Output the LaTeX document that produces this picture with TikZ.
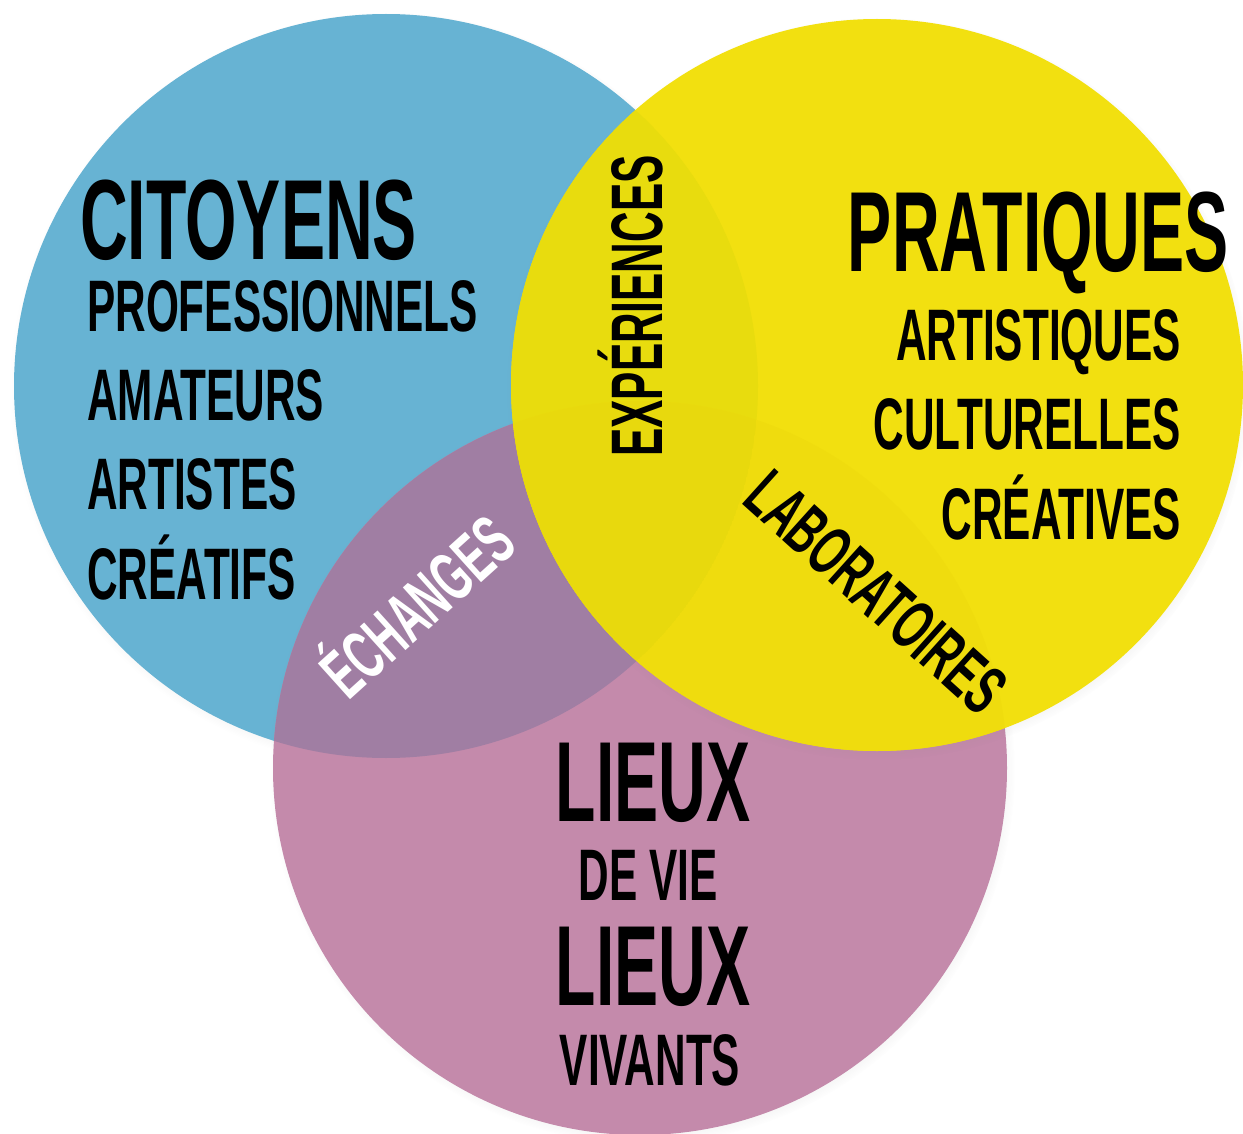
\documentclass[tikz,border=0pt]{standalone}
\usepackage{fontspec}
\usepackage{tikz}
\usetikzlibrary{shadows}
\newfontfamily\condfont[FakeStretch=0.58]{Liberation Sans}

\definecolor{cblue}{HTML}{67B3D3}
\definecolor{cpink}{HTML}{C48AAB}
\definecolor{cyellow}{HTML}{F2E010}
\definecolor{cpurple}{HTML}{A07EA3}
\definecolor{cblueyel}{HTML}{E8DC0E}
\definecolor{cpinkyel}{HTML}{EFDC0E}
\definecolor{call}{HTML}{E8D90D}

\begin{document}
\begin{tikzpicture}[x=1pt,y=-1pt,
  big/.style={font=\condfont\bfseries\fontsize{114}{114}\selectfont, inner sep=0},
  mid/.style={font=\condfont\bfseries\fontsize{73}{73}\selectfont, inner sep=0},
  tilt/.style={font=\condfont\bfseries\fontsize{70}{70}\selectfont, inner sep=0},
  shade/.style={circular drop shadow={shadow xshift=2pt, shadow yshift=-3pt, shadow scale=1.015, opacity=0.35}}]

\useasboundingbox (0,0) rectangle (1243,1134);

% Circles
\coordinate (cit) at (386,386);   % citoyens
\coordinate (pra) at (877,385);   % pratiques
\coordinate (lie) at (640,768);   % lieux

\fill[cblue, shade] (cit) circle (372);
\fill[cpink, shade] (lie) circle (367);
\fill[cyellow, shade] (pra) circle (366);

% Overlaps
\begin{scope}
  \clip (cit) circle (372);
  \fill[cpurple] (lie) circle (367);
  \fill[cblueyel] (pra) circle (366);
\end{scope}
\begin{scope}
  \clip (lie) circle (367);
  \clip (pra) circle (366);
  \fill[cpinkyel] (pra) circle (366);
  \clip (cit) circle (372);
  \fill[call] (cit) circle (372);
\end{scope}

% Citoyens
\node[big, anchor=base west] (citoyens) at (80,260) {CITOYENS};
\node[mid, anchor=base west] (pro) at (87,331) {PROFESSIONNELS};
\node[mid, anchor=base west] (ama) at (87,420) {AMATEURS};
\node[mid, anchor=base west] (art) at (87,509) {ARTISTES};
\node[mid, anchor=base west] (cre) at (87,599) {CRÉATIFS};

% Pratiques
\node[big, anchor=base east] (pratiques) at (1229,272) {PRATIQUES};
\node[mid, anchor=base east] (arti) at (1181,360) {ARTISTIQUES};
\node[mid, anchor=base east] (cult) at (1181,449) {CULTURELLES};
\node[mid, anchor=base east] (crea) at (1181,539) {CRÉATIVES};

% Lieux
\node[big, anchor=base] (lieux) at (653,821) {LIEUX};
\node[mid, anchor=base] (devie) at (648,900) {DE VIE};
\node[big, anchor=base] (lieuxb) at (653,1005) {LIEUX};
\node[mid, anchor=base] (viv) at (650,1085) {VIVANTS};

% Intersections
\node[mid, anchor=base, rotate=90] (exp) at (662,306) {EXPÉRIENCES};
\node[tilt, anchor=base, rotate=42, text=white] (ech) at (434,625) {ÉCHANGES};
\node[tilt, anchor=base, rotate=-42] (lab) at (860,610) {LABORATOIRES};

\end{tikzpicture}
\end{document}
